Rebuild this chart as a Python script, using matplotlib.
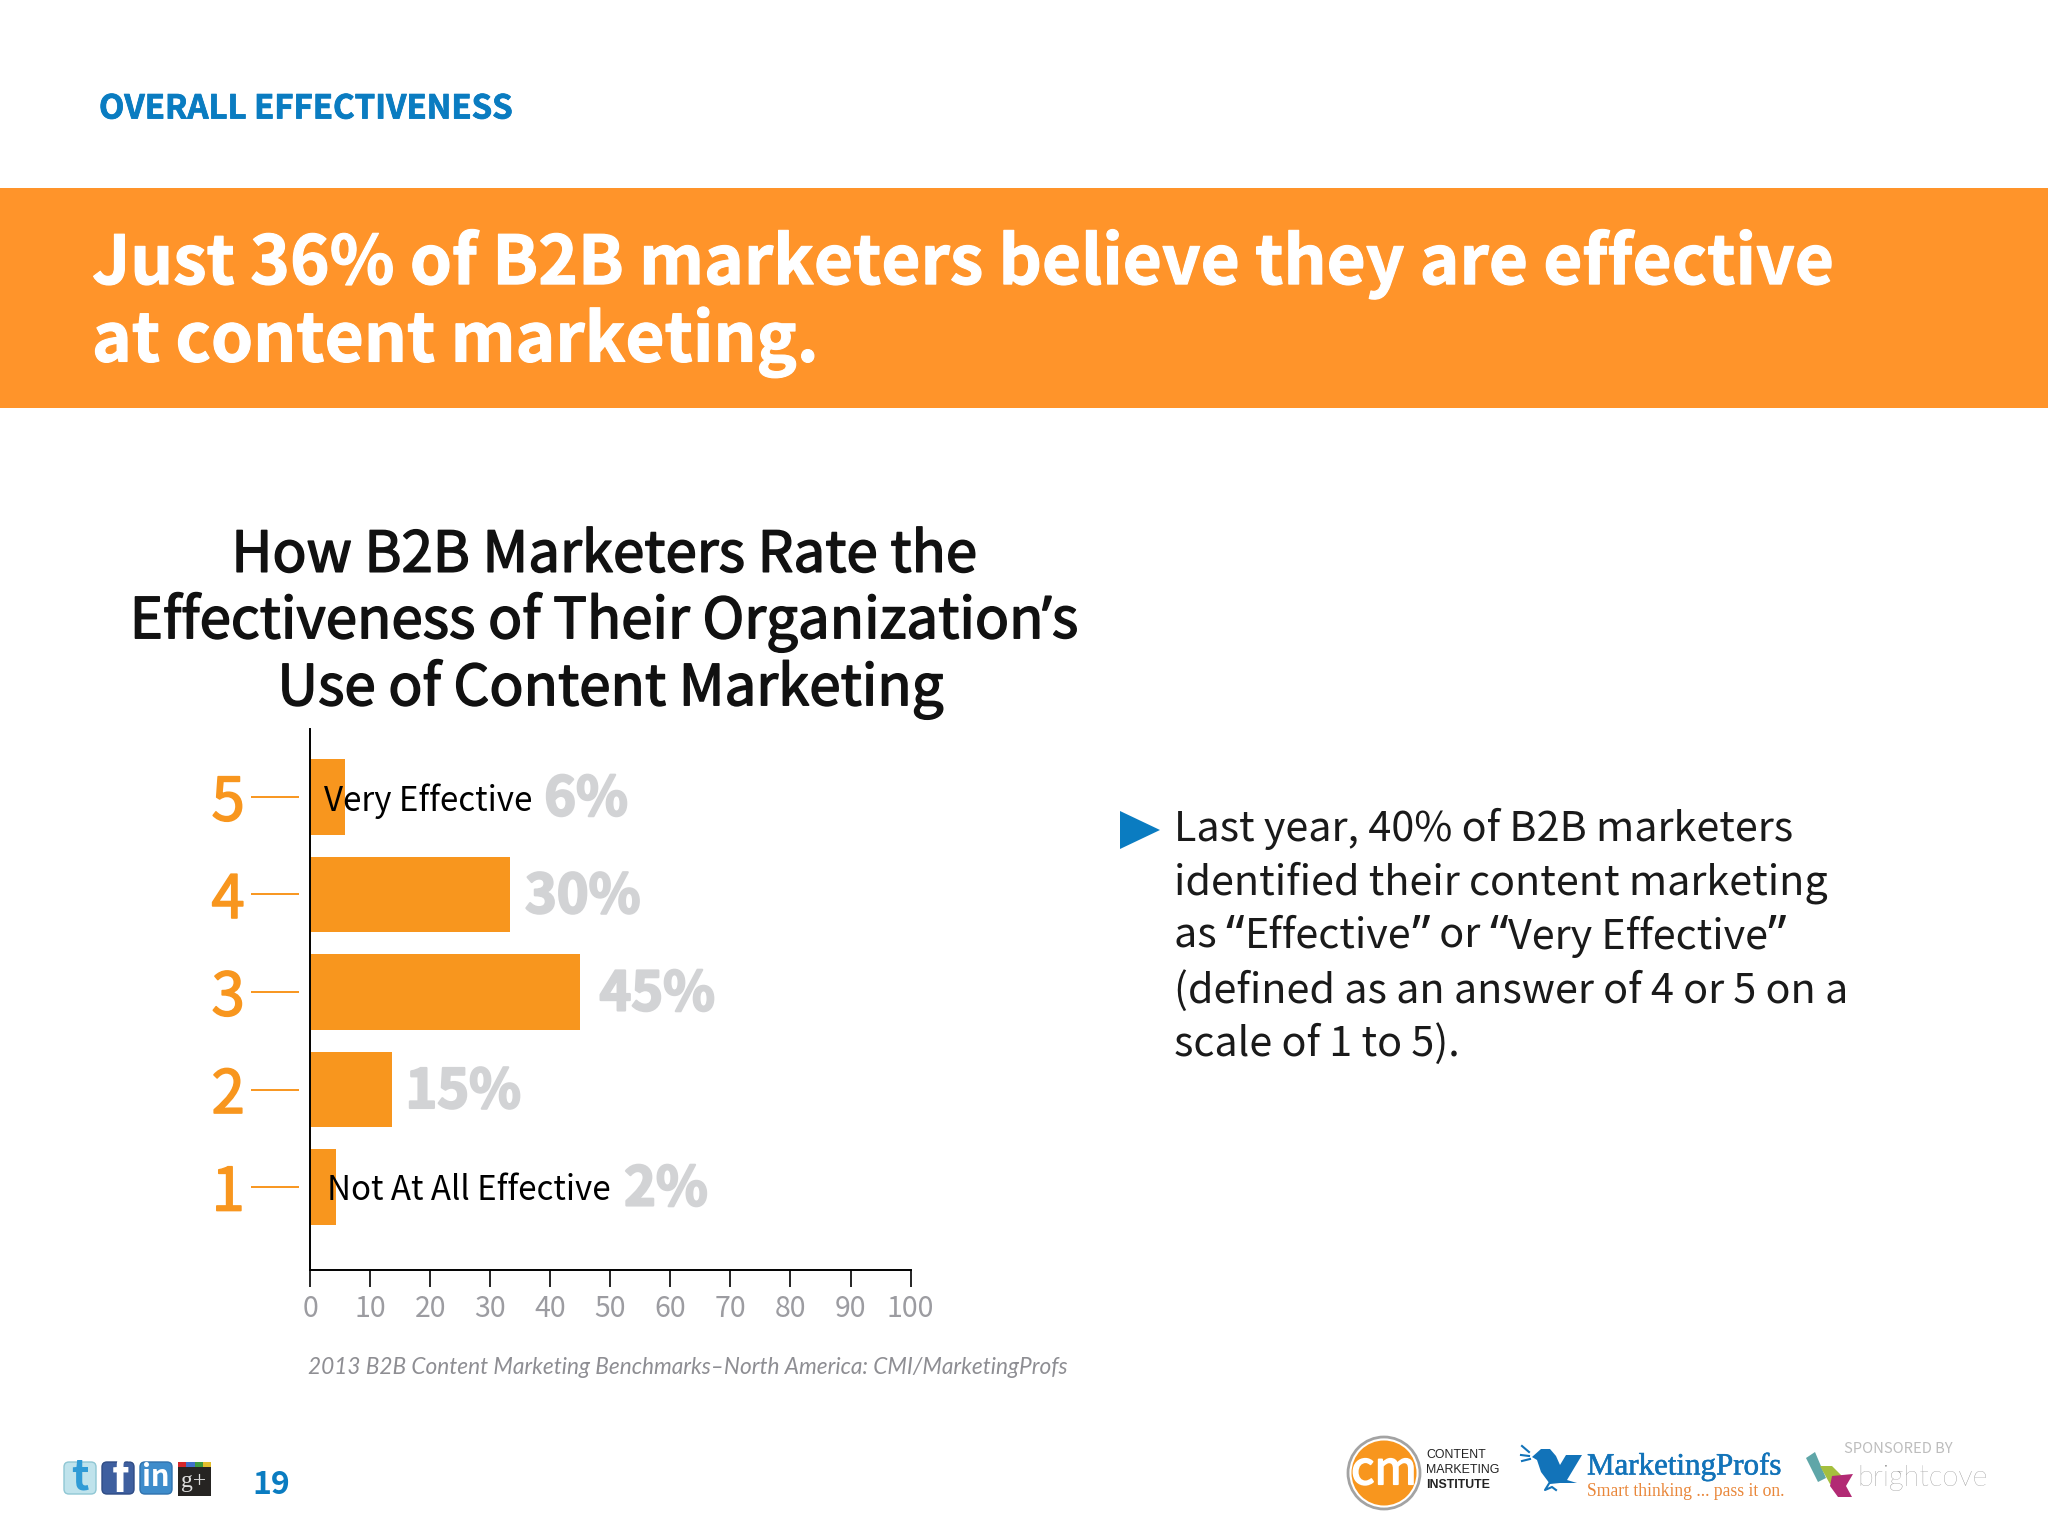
import re
import matplotlib
matplotlib.use("Agg")
import matplotlib.pyplot as plt
import matplotlib.patheffects as pe
from matplotlib.patches import Rectangle, Circle, Polygon, FancyBboxPatch

# ---- data ----
ratings = [5, 4, 3, 2, 1]
bar_lengths = [5.8, 33.3, 45, 13.6, 4.4]
value_labels = ["6%", "30%", "45%", "15%", "2%"]
x_ticks = list(range(0, 101, 10))
inline_labels = {5: "Very Effective", 1: "Not At All Effective"}

section = "OVERALL EFFECTIVENESS"
headline = ["Just 36% of B2B marketers believe they are effective", "at content marketing."]
chart_title = ["How B2B Marketers Rate the", "Effectiveness of Their Organization’s", "Use of Content Marketing"]
body = ["Last year, 40% of B2B marketers", "identified their content marketing",
        "as “Effective” or “Very Effective”", "(defined as an answer of 4 or 5 on a", "scale of 1 to 5)."]
source = "2013 B2B Content Marketing Benchmarks–North America: CMI/MarketingProfs"
page = "19"

ORANGE = "#F8961E"
BAND = "#FF942A"
BLUE = "#0A7CC1"
GREY = "#D2D3D5"
TICK = "#9C9CA1"
SANS = ["Noto Sans CJK SC", "DejaVu Sans"]
plt.rcParams["font.family"] = SANS

W, H = 2048, 1536
fig = plt.figure(figsize=(W / 100, H / 100), dpi=100, facecolor="white")
renderer = fig.canvas.get_renderer()

pg = fig.add_axes([0, 0, 1, 1], zorder=0)
pg.set_xlim(0, W); pg.set_ylim(H, 0); pg.axis("off")


def thick(color, w):
    return [pe.withStroke(linewidth=w, foreground=color)]


def advance(s, **kw):
    a = pg.text(0, 0, "|" + s + "|", **kw)
    b = pg.text(0, 0, "||", **kw)
    w = a.get_window_extent(renderer).width - b.get_window_extent(renderer).width
    a.remove(); b.remove()
    return w


def line_text(x, y, s, ha="left", stroke=0, quote_scale=1.0, **kw):
    """Draw a line; curly quotes come from a proportional family, as the CJK ones are full width."""
    parts = [p for p in re.split("([“”’])", s) if p]
    styled = []
    for p in parts:
        k = dict(kw)
        if p in "“”’":
            k["family"] = "Noto Sans"
            k["fontsize"] = kw["fontsize"] * quote_scale
        styled.append((p, k))
    widths = [advance(p, **k) for p, k in styled]
    cur = x - sum(widths) / 2 if ha == "center" else x
    for (p, k), w in zip(styled, widths):
        t = pg.text(cur, y, p, va="center_baseline", **k)
        if stroke:
            t.set_path_effects(thick(kw["color"], stroke))
        cur += w


pg.add_patch(Rectangle((0, 188), W, 220, fc=BAND, ec="none"))
pg.text(99, 109, section, color=BLUE, fontsize=23.7, weight="bold", va="center",
        path_effects=thick(BLUE, 0.6))
for t, y in zip(headline, [264, 342]):
    pg.text(92, y, t, color="white", fontsize=48.5, weight="bold", va="center",
            path_effects=thick("white", 0.8))
for t, y, x in zip(chart_title, [549, 615, 682], [604, 604, 610]):
    line_text(x, y, t, ha="center", stroke=1.1, color="#111111", fontsize=40.6)
for t, y in zip(body, [824, 878, 932, 986, 1039]):
    line_text(1174, y, t, quote_scale=1.25, color="#1a1a1a", fontsize=29.8)
pg.add_patch(Polygon([(1120, 811), (1160, 830), (1120, 849)], fc=BLUE, ec="none"))
pg.text(308, 1367, source, color="#8E8E93", fontsize=16.3, style="italic", family="Lato", va="center")
pg.text(252, 1485, page, color=BLUE, fontsize=23, weight="bold", va="center")

# chart
x0, x1, yb, yt = 310.0, 910.6, 1270, 729
ax = fig.add_axes([x0 / W, 1 - yb / H, (x1 - x0) / W, (yb - yt) / H], zorder=1)
ax.patch.set_alpha(0)
ax.barh(ratings, bar_lengths, height=0.775, color=ORANGE)
ax.set_xlim(0, 100)
ax.set_ylim(0.149, 5.697)
for s in ["top", "right"]:
    ax.spines[s].set_visible(False)
for s in ["left", "bottom"]:
    ax.spines[s].set_linewidth(1.4)
ax.set_xticks(x_ticks)
ax.tick_params(axis="x", length=12, width=1.2, color="black", labelcolor=TICK, labelsize=20.5, pad=5)
ax.set_yticks(ratings)
ax.tick_params(axis="y", length=0, labelcolor=ORANGE, labelsize=43, pad=47)
for lab in ax.get_yticklabels():
    lab.set_path_effects(thick(ORANGE, 1.2))
ax.hlines(ratings, -9.9, -1.9, color=ORANGE, lw=1.4, clip_on=False)

label_left = [39.0, 35.8, 48.2, 15.9, 52.3]
for r, t, lx in zip(ratings, value_labels, label_left):
    ax.text(lx, r - 0.03, t, color=GREY, fontsize=38.8, weight="bold", va="center", ha="left",
            path_effects=thick(GREY, 1.6))
ax.text(2.4, 4.96, inline_labels[5], color="black", fontsize=23.8, va="center")
ax.text(2.9, 0.96, inline_labels[1], color="black", fontsize=23.8, va="center")


# social icons
def icon(x, fc, ec):
    pg.add_patch(FancyBboxPatch((x, 1462), 32, 32, boxstyle="round,pad=0,rounding_size=5",
                                fc=fc, ec=ec, lw=1))


icon(64, "#BFE3EC", "#8FC7D4")
pg.text(80, 1477, "t", color="#2F9BD6", fontsize=30, weight="bold", ha="center", va="center")
icon(102, "#3E5F9F", "#2F4C85")
pg.text(120, 1479, "f", color="white", fontsize=33, weight="bold", ha="center", va="center")
icon(140, "#3E8CCB", "#2F72AE")
pg.text(156, 1477, "in", color="white", fontsize=21, weight="bold", ha="center", va="center")
pg.add_patch(Rectangle((178, 1466), 33, 30, fc="#262422", ec="none"))
for i, c in enumerate(["#D4262B", "#3F6FC9", "#3E9B3E", "#E3BE2E"]):
    pg.add_patch(Rectangle((178 + i * 8.25, 1462), 8.25, 5, fc=c, ec="none"))
pg.text(194, 1481, "g+", color="#DDDDDD", fontsize=17, family="Liberation Serif", ha="center", va="center")

# CMI logo
pg.add_patch(Circle((1384, 1473), 36, fc="white", ec="#A3A3A3", lw=2))
pg.add_patch(Circle((1384, 1473), 32.5, fc=ORANGE, ec="none"))
pg.text(1384, 1471, "cm", color="white", fontsize=33, ha="center", va="center",
        path_effects=thick("white", 1.2))
for t, y, wt in zip(["CONTENT", "MARKETING", "INSTITUTE"], [1455, 1470, 1485], ["normal", "normal", "bold"]):
    pg.text(1426, y, t, color="#222222", fontsize=8.9, family="Liberation Sans", weight=wt, va="center")

# MarketingProfs logo
bird = [(1532, 1457), (1541, 1449), (1550, 1449), (1556, 1456), (1560, 1465), (1566, 1455), (1582, 1455),
        (1567, 1480), (1577, 1483), (1560, 1483), (1550, 1484), (1541, 1472), (1537, 1460)]
pg.add_patch(Polygon(bird, fc="#1273B9", ec="none"))
pg.plot([1550, 1545, 1552, 1556], [1482, 1490, 1487, 1490], color="#1273B9", lw=1.5)
for (a, b, c, d) in [(1522, 1446, 1529, 1452), (1521, 1455, 1529, 1456), (1522, 1461, 1530, 1459)]:
    pg.plot([a, c], [b, d], color="#1273B9", lw=1.5)
pg.text(1587, 1467, "MarketingProfs", color="#1273B9", fontsize=22.3, family="Liberation Serif", va="center",
        path_effects=thick("#1273B9", 0.4))
pg.text(1587, 1491, "Smart thinking ... pass it on.", color="#E9873A", fontsize=12.7, family="Liberation Serif", va="center")

# Brightcove logo
pg.add_patch(Polygon([(1806, 1458), (1815, 1452), (1826, 1478), (1818, 1482)], fc="#5FA6A8", ec="none"))
pg.add_patch(Polygon([(1820, 1466), (1832, 1466), (1844, 1478), (1830, 1484)], fc="#A5BF3E", ec="none"))
pg.add_patch(Polygon([(1832, 1476), (1853, 1474), (1846, 1486), (1852, 1497), (1838, 1497), (1830, 1486)], fc="#B22A74", ec="none"))
pg.text(1844, 1449, "SPONSORED BY", color="#BDBDBD", fontsize=10.6, va="center")
pg.text(1857, 1478, "brightcove", color="#7A7A7A", fontsize=21, family="Lato", weight="light", va="center")

fig.savefig("out.png", dpi=100)
